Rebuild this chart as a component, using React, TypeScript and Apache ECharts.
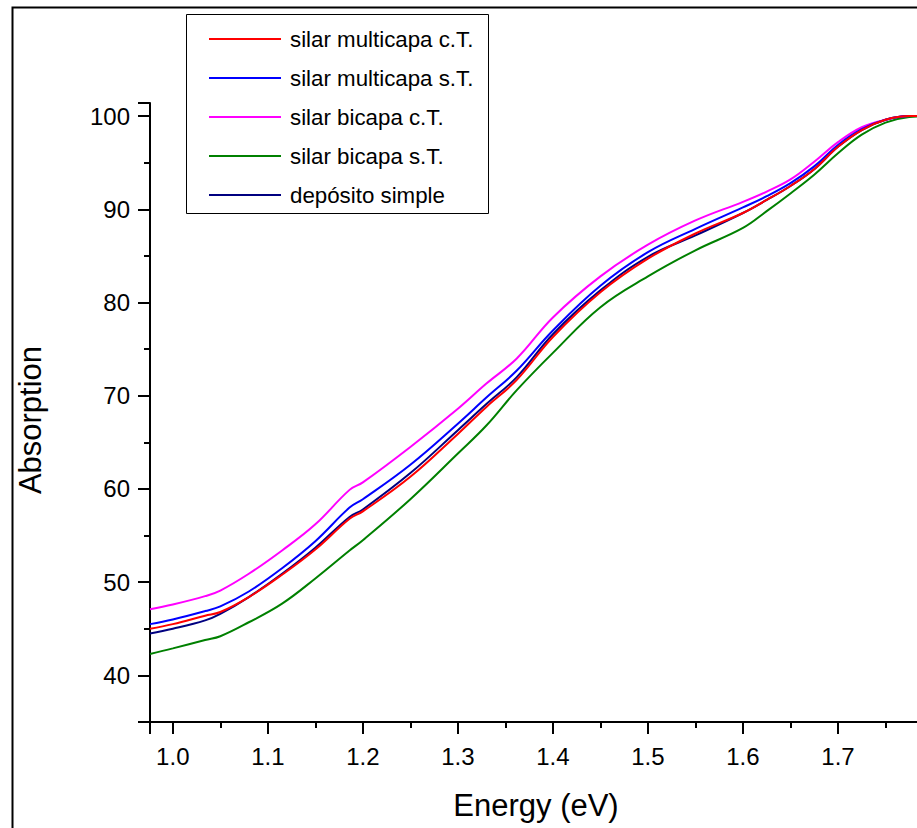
import React, { useEffect, useRef } from "react";
import * as echarts from "echarts";

const energy = [0.976, 1.0, 1.034, 1.05, 1.08, 1.115, 1.15, 1.186, 1.2, 1.25, 1.3, 1.33, 1.362, 1.4, 1.45, 1.5, 1.55, 1.6, 1.625, 1.65, 1.675, 1.7, 1.725, 1.75, 1.775, 1.8];

const multicapaCT = [45.0, 45.5, 46.4, 46.8, 48.4, 50.8, 53.5, 56.8, 57.6, 61.3, 65.9, 68.8, 71.7, 76.3, 81.1, 84.7, 87.4, 89.6, 91.0, 92.5, 94.3, 96.7, 98.5, 99.6, 100, 100];
const multicapaST = [45.5, 46.0, 46.9, 47.4, 49.0, 51.5, 54.4, 58.0, 58.9, 62.6, 67.0, 69.8, 72.7, 77.0, 81.8, 85.4, 87.9, 90.2, 91.4, 92.8, 94.6, 96.9, 98.6, 99.6, 100, 100];
const bicapaCT = [47.1, 47.6, 48.5, 49.1, 50.9, 53.4, 56.2, 59.9, 60.7, 64.5, 68.6, 71.3, 74.0, 78.4, 82.8, 86.2, 88.8, 90.8, 91.9, 93.2, 95.1, 97.2, 98.8, 99.6, 100, 100];
const bicapaST = [42.3, 42.9, 43.8, 44.2, 45.7, 47.7, 50.4, 53.4, 54.5, 58.9, 63.8, 66.8, 70.6, 74.6, 79.5, 82.8, 85.6, 88.0, 89.8, 91.7, 93.7, 96.0, 98.0, 99.3, 99.9, 100];
const depositoSimple = [44.5, 45.0, 45.9, 46.6, 48.4, 50.9, 53.7, 57.0, 57.8, 61.7, 66.3, 69.1, 72.0, 76.6, 81.3, 84.9, 87.2, 89.6, 91.0, 92.5, 94.3, 96.7, 98.5, 99.6, 100, 100];

const seriesNames = ["silar multicapa c.T.", "silar multicapa s.T.", "silar bicapa c.T.", "silar bicapa s.T.", "depósito simple"];
const seriesValues = [multicapaCT, multicapaST, bicapaCT, bicapaST, depositoSimple];
const seriesColors = ["#ff0000", "#0000ff", "#ff00ff", "#008000", "#000080"];

const xTitle = "Energy (eV)";
const yTitle = "Absorption";

const FONT = 'Arial, "Liberation Sans", sans-serif';

export default function App() {
  const ref = useRef<HTMLDivElement>(null);
  useEffect(() => {
    if (!ref.current) return;
    const chart = echarts.init(ref.current, undefined, { renderer: "svg" });
    const series = seriesNames.map((name, i) => ({
      name,
      type: "line",
      data: energy.map((x, j) => [x, seriesValues[i][j]]),
      showSymbol: false,
      smooth: 0.4,
      clip: false,
      lineStyle: { color: seriesColors[i], width: 2 },
      itemStyle: { color: seriesColors[i] },
      z: 5 - i,
    }));
    chart.setOption({
      animation: false,
      backgroundColor: "#ffffff",
      textStyle: { fontFamily: FONT },
      grid: { left: 150, top: 103, width: 783, height: 619, containLabel: false, outerBoundsMode: "none" },
      xAxis: {
        type: "value",
        min: 0.976,
        max: 1.8,
        splitNumber: 8,
        axisLine: { lineStyle: { color: "#000", width: 2 } },
        axisTick: { show: true, length: 12, lineStyle: { color: "#000", width: 2 } },
        minorTick: { show: true, splitNumber: 2, length: 6, lineStyle: { color: "#000", width: 2 } },
        splitLine: { show: false },
        axisLabel: {
          fontSize: 24,
          color: "#000",
          fontFamily: FONT,
          margin: 22,
          showMinLabel: false,
          showMaxLabel: false,
          formatter: (v: number) => v.toFixed(1),
        },
      },
      yAxis: {
        type: "value",
        min: 35,
        max: 101.4,
        splitNumber: 7,
        axisLine: { show: true, lineStyle: { color: "#000", width: 2 } },
        axisTick: { show: true, length: 12, lineStyle: { color: "#000", width: 2 } },
        minorTick: { show: true, splitNumber: 2, length: 6, lineStyle: { color: "#000", width: 2 } },
        splitLine: { show: false },
        axisLabel: {
          fontSize: 24,
          color: "#000",
          fontFamily: FONT,
          margin: 20,
          formatter: (v: number) => (Math.abs(v % 10) < 1e-6 ? String(v) : ""),
        },
      },
      legend: {
        orient: "vertical",
        left: 209,
        top: 27,
        padding: 0,
        itemWidth: 72,
        itemHeight: 2,
        itemGap: 15,
        icon: "rect",
        data: seriesNames,
        textStyle: { fontSize: 22.3, lineHeight: 24, color: "#000", fontFamily: FONT, padding: [0, 0, 0, 4] },
      },
      graphic: [
        { type: "rect", left: 10, top: 5, shape: { x: 0, y: 0, width: 1200, height: 1200 }, style: { fill: "none", stroke: "#000", lineWidth: 2 }, z: 100, silent: true },
        { type: "rect", shape: { x: 186.5, y: 14.5, width: 302, height: 199 }, style: { fill: "none", stroke: "#000", lineWidth: 1 }, z: 100, silent: true },
        { type: "text", x: 536, y: 805, style: { text: xTitle, fontSize: 31, fill: "#000", fontFamily: FONT, textAlign: "center", textVerticalAlign: "middle" }, z: 100 },
        { type: "text", x: 30, y: 420, rotation: Math.PI / 2, style: { text: yTitle, fontSize: 31, fill: "#000", fontFamily: FONT, textAlign: "center", textVerticalAlign: "middle" }, z: 100 },
      ],
      series,
    });
    return () => chart.dispose();
  }, []);
  return <div ref={ref} style={{ position: "fixed", left: 0, top: 0, width: 917, height: 828 }} />;
}
